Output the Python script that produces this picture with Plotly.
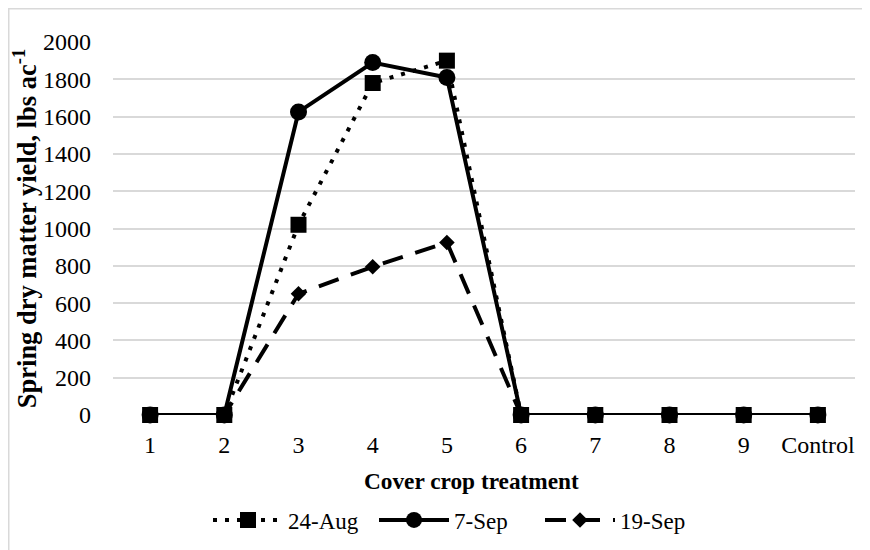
import plotly.graph_objects as go

categories = ["1", "2", "3", "4", "5", "6", "7", "8", "9", "Control"]
aug24 = [0, 0, 1020, 1780, 1900, 0, 0, 0, 0, 0]
sep7 = [0, 0, 1625, 1890, 1810, 0, 0, 0, 0, 0]
sep19 = [0, 0, 650, 795, 925, 0, 0, 0, 0, 0]
y_ticks = list(range(0, 2001, 200))

FONT = "'Liberation Serif', 'Times New Roman', Times, serif"

# page has an 8px body margin; figure is sized to fit the 870x550 window
W, H = 862, 542
L, R, T, B = 105, 15, 34, 135
PW, PH = W - L - R, H - T - B

fig = go.Figure()
fig.add_trace(go.Scatter(
    x=categories, y=sep19, name="19-Sep", mode="lines+markers", legendrank=3,
    cliponaxis=False,
    line=dict(color="black", width=4, dash="21px,13px"),
    marker=dict(symbol="diamond", size=12, color="black"),
))
fig.add_trace(go.Scatter(
    x=categories, y=sep7, name="7-Sep", mode="lines+markers", legendrank=2,
    cliponaxis=False,
    line=dict(color="black", width=4),
    marker=dict(symbol="circle", size=17, color="black"),
))
fig.add_trace(go.Scatter(
    x=categories, y=aug24, name="24-Aug", mode="lines+markers", legendrank=1,
    cliponaxis=False,
    line=dict(color="black", width=4, dash="4px,8px"),
    marker=dict(symbol="square", size=16, color="black"),
))

fig.update_layout(
    width=W, height=H,
    margin=dict(l=L, r=R, t=T, b=B, autoexpand=False),
    paper_bgcolor="white", plot_bgcolor="white",
    font=dict(family=FONT, size=23, color="black"),
    showlegend=True,
    legend=dict(orientation="h", x=(200 - L) / PW, xanchor="left", y=-(105 / PH), yanchor="middle",
                font=dict(family=FONT, size=23, color="black"), itemwidth=70,
                entrywidth=81, bgcolor="rgba(0,0,0,0)"),
    xaxis=dict(type="category", categoryorder="array", categoryarray=categories,
               range=[-0.5, 9.5], showgrid=False, zeroline=False, showline=False,
               ticks="", ticklabelstandoff=13, automargin=False,
               tickfont=dict(family=FONT, size=24, color="black")),
    yaxis=dict(range=[0, 2000], tickvals=y_ticks, showgrid=True, gridcolor="#d9d9d9",
               gridwidth=1.5, zeroline=False, showline=False, ticks="",
               ticklabelstandoff=21, automargin=False,
               tickfont=dict(family=FONT, size=24, color="black"),
               title=dict(text="<b>Spring dry matter yield, lbs ac<sup>-1</sup></b>", standoff=4,
                          font=dict(family=FONT, size=26.5, color="black"))),
    annotations=[dict(text="<b>Cover crop treatment</b>", xref="paper", yref="paper",
                      x=(463.5 - L) / PW, y=-(66 / PH), xanchor="center", yanchor="middle",
                      showarrow=False, font=dict(family=FONT, size=23.3, color="black"))],
    shapes=[dict(type="rect", xref="paper", yref="paper",
                 x0=(0.75 - L) / PW, x1=(880 - L) / PW,
                 y0=-(560 - (T + PH)) / PH, y1=1 + (T - 0.75) / PH,
                 line=dict(color="#d9d9d9", width=1.5), fillcolor="rgba(0,0,0,0)",
                 layer="below")],
)

fig.write_html("out.html")
